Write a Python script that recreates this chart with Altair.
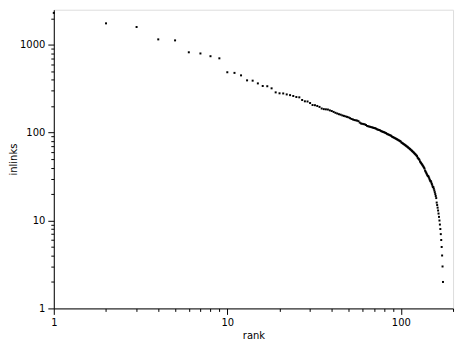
import altair as alt
import pandas as pd

ranks = list(range(1, 176))
inlinks = [
    2300, 1750, 1590, 1150, 1120, 820, 795, 740, 700, 486,
    478, 448, 393, 390, 363, 339, 337, 319, 287, 280,
    279, 272, 267, 261, 254, 252, 235, 227, 226, 217,
    206, 205, 201, 196, 188, 185, 184, 183, 179, 176,
    172, 168, 165, 162, 160, 157, 155, 153, 151, 149,
    146, 143, 141, 139, 138, 137, 135, 130, 127, 126,
    125, 124, 122, 119, 118, 117, 116, 115, 114, 113,
    112, 111, 109, 108, 107, 106, 104, 103, 102, 101,
    100, 99, 97, 96, 95, 94, 93, 92, 90, 89,
    88, 87, 86, 85, 84, 83, 82, 81, 80, 79,
    77, 76, 75, 74, 73, 72, 71, 70, 69, 68,
    67, 66, 65, 64, 63, 62, 61, 60, 59, 58,
    57, 56, 55, 54, 52, 51, 50, 49, 47, 46,
    45, 44, 43, 42, 41, 40, 39, 37, 36, 35,
    34, 33, 32, 32, 31, 30, 29, 28, 28, 27,
    26, 25, 24, 24, 23, 22, 21, 20, 19, 18,
    16, 15, 14, 13, 12, 11, 10, 9, 8, 7,
    6, 5, 4, 3, 2,
]

x_ticks = [1, 2, 3, 4, 5, 6, 7, 8, 9, 10, 20, 30, 40, 50, 60, 70, 80, 90, 100, 200]
y_ticks = [1, 2, 3, 4, 5, 6, 7, 8, 9, 10, 20, 30, 40, 50, 60, 70, 80, 90,
           100, 200, 300, 400, 500, 600, 700, 800, 900, 1000, 2000]

df = pd.DataFrame({"rank": ranks, "inlinks": inlinks})

major_test = "indexof([1,10,100,1000], datum.value) >= 0"
tick_size = {"condition": {"test": major_test, "value": 6}, "value": 3}
label_expr = "indexof([1,10,100,1000], datum.value) >= 0 ? datum.label : ''"

font = "DejaVu Sans"

common_axis = dict(
    grid=False,
    domainColor="black",
    domainWidth=1,
    tickColor="black",
    tickWidth=1,
    labelColor="black",
    titleColor="black",
    labelFont=font,
    titleFont=font,
    labelFontSize=10,
    titleFontSize=10,
    titleFontWeight="normal",
    labelExpr=label_expr,
    tickSize=tick_size,
    labelPadding=3,
    labelOverlap=False,
    labelFlush=False,
    format="d",
)

chart = (
    alt.Chart(df)
    .mark_square(size=4, color="black", opacity=1)
    .encode(
        x=alt.X(
            "rank:Q",
            scale=alt.Scale(type="log", domain=[1, 200], nice=False),
            axis=alt.Axis(values=x_ticks, title="rank", titlePadding=3, **common_axis),
        ),
        y=alt.Y(
            "inlinks:Q",
            scale=alt.Scale(type="log", domain=[1, 2500], nice=False),
            axis=alt.Axis(values=y_ticks, title="inlinks", titlePadding=1, **common_axis),
        ),
    )
    .properties(
        width=401,
        height=300,
        autosize=alt.AutoSizeParams(type="none"),
        padding={"left": 46, "top": 1, "right": 8, "bottom": 35},
    )
    .configure_view(stroke="black", strokeWidth=1)
    .configure(background="white")
)

chart.save("out.html", embed_options={"renderer": "svg", "actions": False})
